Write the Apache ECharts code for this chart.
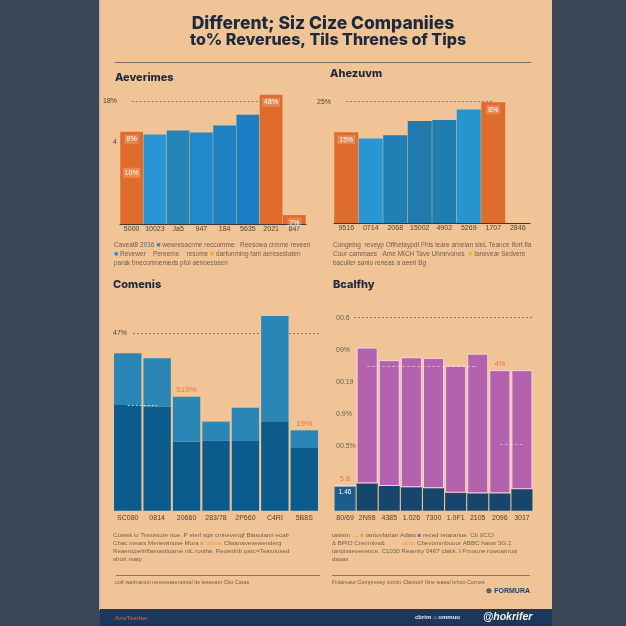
<!DOCTYPE html>
<html><head><meta charset="utf-8">
<script src="https://cdn.jsdelivr.net/npm/echarts@6/dist/echarts.min.js"></script>
<style>html,body{margin:0;padding:0;background:#3b4759}#c{width:626px;height:626px}</style>
</head><body><div id="c"></div>
<script>
// ---------- DATA ----------
const revCats = ['5000','10023','Ja5','947','184','5635','2021','847'];
const revValues = [13.5,13.1,13.7,13.4,14.4,16.0,18.9,1.3];
const revLabels = ['8%','','','','','','48%','7%'];
const revInnerLabel = {cat:'5000', value:7.5, text:'10%'};
const revTickLabels = {12:'4', 18:'18%'};
const revRef = 18;

const aheCats = ['9516','0714','2068','15002','4902','5269','1707','2846'];
const aheValues = [18.7,17.4,18.1,21.0,21.2,23.4,24.9,null];
const aheLabels = ['15%','','','','','','8%',''];
const aheTickLabels = {25:'25%'};
const aheRef = 25;

const comCats = ['SC080','0814','20660','283/78','2P660','C4RI','5B8S'];
const comBase = [28.0,27.6,18.3,18.5,18.5,23.7,16.8];
const comUpper = [13.7,12.8,11.9,5.1,8.8,27.9,4.5];
const comLabels = ['','','519%','','','','19%'];
const comRef = 47;

const heaCats = ['80/69','2N98','4385','1.026','7300','1.0F1','2105','2096','3017'];
const heaBase = [7.7,8.5,7.7,7.3,7.0,5.6,5.4,5.4,6.7];
const heaUpper = [0,42.2,39.1,40.4,40.5,39.5,43.4,38.3,37.0];
const heaTopLabels = ['5.8','','','','','','','4%',''];
const heaBaseLabels = ['1.46','','','','','','','',''];
const heaTickLabels = {20:'00.5%',30:'0.9%',40:'00.19',50:'09%',60:'00.6'};
const heaGuides = [[1,6,44.8],[7,8,20.7]];

// ---------- STYLE ----------
const PEACH = '#f0c496';
const INK = '#1e2a3c';
const AX = '#4e4236';
const NOTE = '#6f5f52';
const ORANGE = '#df6b2d';
const revColors = [ORANGE,'#2a95d3','#2485b6','#2189cb','#1f81c2','#1c7fc6',ORANGE,ORANGE];
const aheColors = [ORANGE,'#2896d2','#1f80b6','#1f7bad','#1f7db0','#2595d2',ORANGE,ORANGE];
const FONT = 'Liberation Sans';

const chart = echarts.init(document.getElementById('c'), null, {width:626, height:626});

function xAx(grid, cats, margin, showLine){
  return {type:'category', gridIndex:grid, data:cats,
    axisLine:{show:showLine, lineStyle:{color:'#3d3530', width:1}},
    axisTick:{show:false},
    axisLabel:{fontSize:7, color:AX, margin:margin, fontFamily:FONT, interval:0}};
}
function yAx(grid, max, interval, map, extra){
  return Object.assign({type:'value', gridIndex:grid, min:0, max:max, interval:interval,
    axisLine:{show:false}, axisTick:{show:false}, splitLine:{show:false},
    axisLabel:{fontSize:7, color:AX, margin:3, fontFamily:FONT,
      formatter:v => map[v] || ''}}, extra||{});
}
const dashStyle = {type:[2,2], color:'#8a7664', width:1};

function singleBars(cats, values, colors, labels, ref, xi, refEndCat){
  return {type:'bar', xAxisIndex:xi, yAxisIndex:xi, barCategoryGap:'2%',
    data: values.map((v,i)=>({value:v, itemStyle:{color:colors[i]},
      label: labels[i] ? {show:true, position:'insideTop', formatter:labels[i], color:'#fff',
        fontSize:7, fontFamily:FONT, distance:3, backgroundColor:'rgba(255,255,255,0.2)', padding:[1,2]} : {show:false}})),
    markLine:{silent:true, symbol:'none', z:1, label:{show:false}, lineStyle:dashStyle,
      data:[[{coord:[cats[0], ref]},{coord:[refEndCat, ref]}]]}
  };
}

const s0 = singleBars(revCats, revValues, revColors, revLabels, revRef, 0, revCats[6]);
s0.markPoint = {silent:true, symbol:'rect', symbolSize:[17,10],
  itemStyle:{color:'#ef8a4c'},
  label:{show:true, color:'#fff', fontSize:7, fontFamily:FONT, formatter:revInnerLabel.text},
  data:[{coord:[revInnerLabel.cat, revInnerLabel.value]}]};

const option = {
  backgroundColor:'#3b4759',
  animation:false,
  grid:[
    {left:120, width:186, top:60, height:164},
    {left:334, width:196, top:77.4, height:145.6},
    {left:113, width:206, top:284.3, height:226.4},
    {left:334, width:199, top:317.7, height:193}
  ],
  xAxis:[
    xAx(0, revCats, 2, true),
    xAx(1, aheCats, 2, true),
    xAx(2, comCats, 4, false),
    xAx(3, heaCats, 4, false)
  ],
  yAxis:[
    yAx(0, 24, 6, revTickLabels),
    yAx(1, 30, 5, aheTickLabels),
    yAx(2, 60, 47, {47:'47%'}, {
      axisLabel:{inside:true, fontSize:7, color:AX, margin:0, fontFamily:FONT, backgroundColor:PEACH, padding:[0,4,0,0],
        formatter:v => v===comRef ? '47%' : ''},
      splitLine:{show:true, lineStyle:{type:[2,2], width:1, color:['transparent','#8a7664','transparent']}}}),
    yAx(3, 60, 10, heaTickLabels, {
      axisLabel:{inside:true, fontSize:7, color:'#6b5d52', margin:0, fontFamily:FONT, backgroundColor:PEACH, padding:[0,4,0,2],
        formatter:v => heaTickLabels[v] || ''},
      splitLine:{show:true, lineStyle:{type:[2,2], width:1,
        color:['transparent','transparent','transparent','transparent','transparent','transparent','#8a7664']}}})
  ],
  series:[
    s0,
    singleBars(aheCats, aheValues, aheColors, aheLabels, aheRef, 1, aheCats[6]),
    {type:'bar', xAxisIndex:2, yAxisIndex:2, stack:'c', barCategoryGap:'7%', data:comBase,
      itemStyle:{color:'#0c5b8d'}},
    {type:'bar', xAxisIndex:2, yAxisIndex:2, stack:'c', data:comUpper,
      itemStyle:{color:'#2a86b7'},
      label:{show:true, position:'top', distance:3, color:'#e8772f', fontSize:8, fontFamily:FONT,
        formatter:p => comLabels[p.dataIndex]},
      markLine:{silent:true, symbol:'none', label:{show:false},
        lineStyle:{type:[2,2], color:'rgba(255,255,255,0.75)', width:1},
        data:[[{coord:[comCats[0], comBase[0]]},{coord:[comCats[1], comBase[0]]}]]}},
    {type:'bar', xAxisIndex:3, yAxisIndex:3, stack:'h', barCategoryGap:'5%',
      data: heaBase.map((v,i)=>({value:v, itemStyle:{color: i===0 ? '#1b5e8e' : '#17466c'}})),
      label:{show:true, position:'insideTop', distance:3, color:'#fff', fontSize:6.5, fontFamily:FONT,
        formatter:p => heaBaseLabels[p.dataIndex]}},
    {type:'bar', xAxisIndex:3, yAxisIndex:3, stack:'h', data:heaUpper,
      itemStyle:{color:'#b363ae', borderColor:'rgba(255,230,240,0.75)', borderWidth:1},
      label:{show:true, position:'top', distance:2, color:'#e8772f', fontSize:7.5, fontFamily:FONT,
        formatter:p => heaTopLabels[p.dataIndex]},
      markLine:{silent:true, symbol:'none', label:{show:false},
        lineStyle:{type:[3,2], color:'rgba(255,255,255,0.45)', width:1},
        data: heaGuides.map(g => [{coord:[heaCats[g[0]], g[2]]},{coord:[heaCats[g[1]], g[2]]}])}}
  ],
  graphic:[
    {type:'rect', z:-10, shape:{x:100, y:0, width:452, height:610}, style:{fill:PEACH}},
    {type:'rect', z:-9, shape:{x:99, y:0, width:1.2, height:610}, style:{fill:'#c2b2a3'}},
    {type:'rect', z:-9, shape:{x:100, y:609, width:452, height:17}, style:{fill:'#1c375a'}},
    {type:'text', z:10, style:{x:323, y:24, text:'Different; Siz Cize Companiies', textAlign:'center', textVerticalAlign:'middle', verticalAlign:'middle',
      font:'800 17.5px Inter', fill:INK}},
    {type:'text', z:10, style:{x:328, y:40, text:'to% Reverues, Tils Threnes of Tips', textAlign:'center', textVerticalAlign:'middle', verticalAlign:'middle',
      font:'800 16px Inter', fill:INK}},
    {type:'rect', z:5, shape:{x:115, y:62, width:416, height:1}, style:{fill:'#7d6a58'}},
    {type:'text', z:10, style:{x:115, y:78, text:'Aeverimes', verticalAlign:'middle', textVerticalAlign:'middle', font:'800 11px Inter', fill:INK}},
    {type:'text', z:10, style:{x:330, y:74, text:'Ahezuvm', verticalAlign:'middle', textVerticalAlign:'middle', font:'800 11px Inter', fill:INK}},
    {type:'text', z:10, style:{x:113, y:285, text:'Comenis', verticalAlign:'middle', textVerticalAlign:'middle', font:'800 11px Inter', fill:INK}},
    {type:'text', z:10, style:{x:333, y:285, text:'Bcalfhy', verticalAlign:'middle', textVerticalAlign:'middle', font:'800 11px Inter', fill:INK}},
    // notes top
    {type:'text', z:10, style:{x:114, y:241, font:'6.5px "Liberation Sans"', fill:NOTE, lineHeight:9,
      text:'Caveat8 2016 {b|■} wewresacrme reccomme   Reesowa crmme reveen\n{b|■} Revewer    Pereeme    resome {o|■} darfunming fam aeresestaten\nparak bnecomnemeds pfol aenoecosen',
      rich:{b:{fill:'#2a8fd0', fontSize:7}, o:{fill:'#f2a23a', fontSize:7}}}},
    {type:'text', z:10, style:{x:333, y:241, font:'6.5px "Liberation Sans"', fill:NOTE, lineHeight:9,
      text:'Congeing  reveyp Offhetaypdt Fhis leare arneian sieL Teance Ifort.fla\nCour cammaes   Ame MICH Tave Uhnevones  {o|■} tanevear Sedvere\nbaculler sanio reneas a aeeri Bg',
      rich:{o:{fill:'#f2b03a', fontSize:7}}}},
    // notes bottom
    {type:'text', z:10, style:{x:113, y:531, font:'6.2px "Liberation Sans"', fill:NOTE, lineHeight:8,
      text:'Cotesk lo Trexesure nue. P elerl sgtr cninevengf Blasulann ecafr\nCbac mears Menewinuse Mora {o|■ ussus} Cfwanavevewenderg\nReaencpefriffamasituame niL roniha  Reowrfnb parc=Teasnused\nshort maty',
      rich:{o:{fill:'#ee9a3a', fontSize:6.2}}}},
    {type:'text', z:10, style:{x:332, y:531, font:'6.2px "Liberation Sans"', fill:NOTE, lineHeight:8,
      text:'tasism  ... {o|■} tantovfartan Adats {p|■} reced retaranue. Cb 0CCI\n& BPIO Cremniva&          {o|ucco} Cbevommbuoor ABBC hassr 3G.1\ntanpissevevence. C1030 Reamity 0467 clakk. I Frnoune rowoarnusi\ndasas',
      rich:{o:{fill:'#ee9a3a', fontSize:6.2}, p:{fill:'#9a5fa8', fontSize:6.2}}}},
    {type:'rect', z:5, shape:{x:116, y:575, width:204, height:1}, style:{fill:'#8a7664'}},
    {type:'rect', z:5, shape:{x:332, y:575, width:198, height:1}, style:{fill:'#8a7664'}},
    {type:'text', z:10, style:{x:115, y:582, verticalAlign:'middle', textVerticalAlign:'middle', font:'5.5px "Liberation Sans"', fill:NOTE,
      text:'cotf warinarion necessarenomal tts lesseam Cko Catas'}},
    {type:'text', z:10, style:{x:332, y:582, verticalAlign:'middle', textVerticalAlign:'middle', font:'5.5px "Liberation Sans"', fill:NOTE,
      text:'Frdareaut Compressy sorcin Clanton! Iline wasal lehon Cornes'}},
    {type:'text', z:10, style:{x:530, y:591, textAlign:'right', verticalAlign:'middle', textVerticalAlign:'middle', font:'bold 7px "Liberation Sans"', fill:'#24406a',
      text:'⊕ FORMURA'}},
    {type:'text', z:10, style:{x:115, y:618, verticalAlign:'middle', textVerticalAlign:'middle', font:'bold 6px "Liberation Sans"', fill:'#c9563c',
      text:'AnuTextiler'}},
    {type:'text', z:10, style:{x:415, y:617, verticalAlign:'middle', textVerticalAlign:'middle', font:'bold 6px "Liberation Sans"', fill:'#e8e8ea',
      text:'cbrim ⌂ ommuu'}},
    {type:'text', z:10, style:{x:483, y:617, verticalAlign:'middle', textVerticalAlign:'middle', font:'italic bold 10.5px "Liberation Sans"', fill:'#f2f2f4',
      text:'@hokrifer'}}
  ]
};
chart.setOption(option);
</script></body></html>
